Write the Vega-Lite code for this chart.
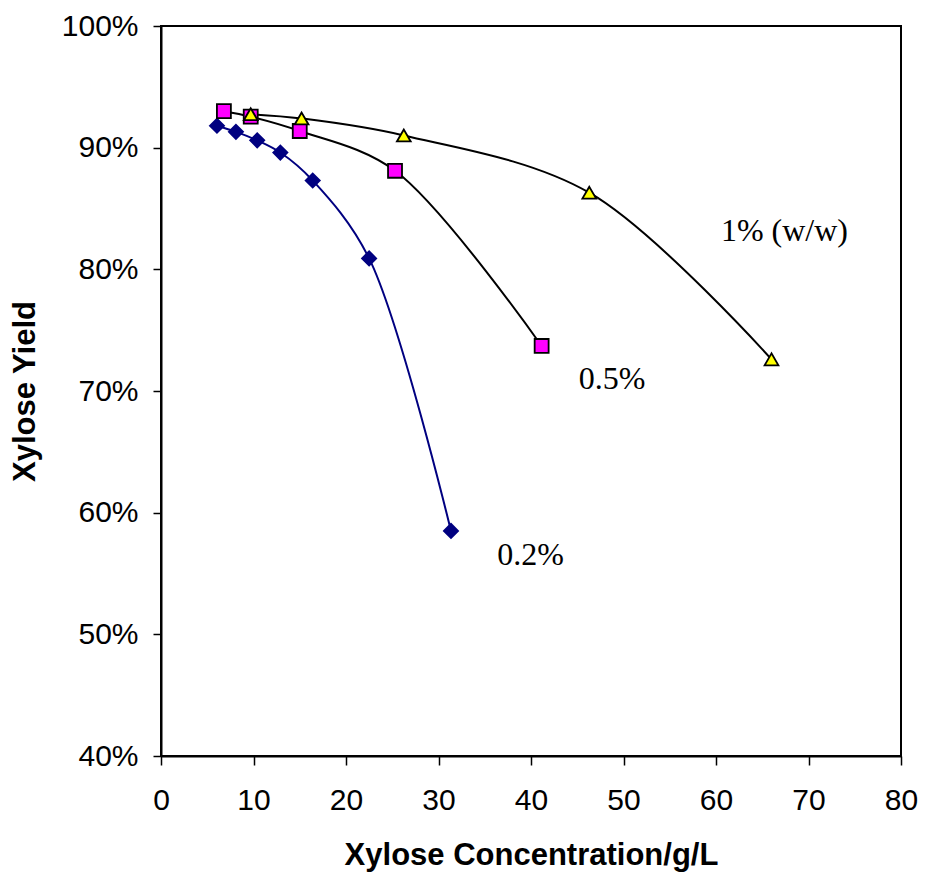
{
  "$schema": "https://vega.github.io/schema/vega-lite/v6.json",
  "width": 740,
  "height": 730,
  "autosize": "none",
  "padding": {"left": 161, "top": 26, "right": 24, "bottom": 122},
  "background": "white",
  "config": {
    "view": {"stroke": "black", "strokeWidth": 2},
    "axis": {
      "grid": false,
      "domainColor": "black",
      "domainWidth": 2,
      "tickColor": "black",
      "tickWidth": 1.5,
      "tickSize": 8,
      "labelFont": "Liberation Sans",
      "labelFontSize": 30,
      "labelColor": "black",
      "labelFlush": false,
      "labelOverlap": false,
      "titleFont": "Liberation Sans",
      "titleFontWeight": "bold",
      "titleFontSize": 31,
      "titleColor": "black"
    }
  },
  "datasets": {
    "points": [
      {"series": "0.2%", "x": 6.05, "y": 0.918},
      {"series": "0.2%", "x": 8.1, "y": 0.913},
      {"series": "0.2%", "x": 10.4, "y": 0.906},
      {"series": "0.2%", "x": 12.9, "y": 0.896},
      {"series": "0.2%", "x": 16.4, "y": 0.873},
      {"series": "0.2%", "x": 22.5, "y": 0.809},
      {"series": "0.2%", "x": 31.35, "y": 0.585},
      {"series": "0.5%", "x": 6.8, "y": 0.930},
      {"series": "0.5%", "x": 9.7, "y": 0.9255},
      {"series": "0.5%", "x": 15.0, "y": 0.9137},
      {"series": "0.5%", "x": 25.3, "y": 0.881},
      {"series": "0.5%", "x": 41.15, "y": 0.737},
      {"series": "1%", "x": 9.7, "y": 0.9275},
      {"series": "1%", "x": 15.2, "y": 0.924},
      {"series": "1%", "x": 26.25, "y": 0.910},
      {"series": "1%", "x": 46.3, "y": 0.863},
      {"series": "1%", "x": 66.0, "y": 0.726}
    ],
    "labels": [
      {"text": "1% (w/w)", "x": 67.4, "y": 0.8315},
      {"text": "0.5%", "x": 48.76, "y": 0.710},
      {"text": "0.2%", "x": 39.95, "y": 0.565}
    ]
  },
  "layer": [
    {
      "data": {"name": "points"},
      "mark": {"type": "line", "interpolate": "catmull-rom", "strokeWidth": 2},
      "encoding": {
        "x": {
          "field": "x", "type": "quantitative",
          "scale": {"domain": [0, 80], "nice": false},
          "axis": {"values": [0, 10, 20, 30, 40, 50, 60, 70, 80], "title": "Xylose Concentration/g/L", "tickSize": 9, "labelPadding": 20, "titlePadding": 25}
        },
        "y": {
          "field": "y", "type": "quantitative",
          "scale": {"domain": [0.4, 1.0], "nice": false, "zero": false},
          "axis": {"values": [0.4, 0.5, 0.6, 0.7, 0.8, 0.9, 1.0], "format": ".0%", "title": "Xylose Yield", "labelPadding": 15, "titlePadding": 20}
        },
        "detail": {"field": "series"},
        "color": {
          "field": "series", "type": "nominal",
          "scale": {"domain": ["0.2%", "0.5%", "1%"], "range": ["#000080", "#000000", "#000000"]},
          "legend": null
        }
      }
    },
    {
      "data": {"name": "points"},
      "mark": {"type": "point", "filled": true, "strokeWidth": 1.8, "opacity": 1},
      "encoding": {
        "x": {"field": "x", "type": "quantitative"},
        "y": {"field": "y", "type": "quantitative"},
        "shape": {
          "field": "series", "type": "nominal",
          "scale": {"domain": ["0.2%", "0.5%", "1%"], "range": ["diamond", "square", "triangle-up"]},
          "legend": null
        },
        "fill": {
          "field": "series", "type": "nominal",
          "scale": {"domain": ["0.2%", "0.5%", "1%"], "range": ["#000080", "#FF00FF", "#FFFF00"]},
          "legend": null
        },
        "stroke": {
          "field": "series", "type": "nominal",
          "scale": {"domain": ["0.2%", "0.5%", "1%"], "range": ["#000080", "#000000", "#000000"]},
          "legend": null
        },
        "size": {
          "field": "series", "type": "nominal",
          "scale": {"domain": ["0.2%", "0.5%", "1%"], "range": [200, 190, 250]},
          "legend": null
        }
      }
    },
    {
      "data": {"name": "labels"},
      "mark": {"type": "text", "font": "Liberation Serif", "fontSize": 32, "color": "black", "align": "center", "baseline": "middle"},
      "encoding": {
        "x": {"field": "x", "type": "quantitative"},
        "y": {"field": "y", "type": "quantitative"},
        "text": {"field": "text"}
      }
    }
  ]
}
